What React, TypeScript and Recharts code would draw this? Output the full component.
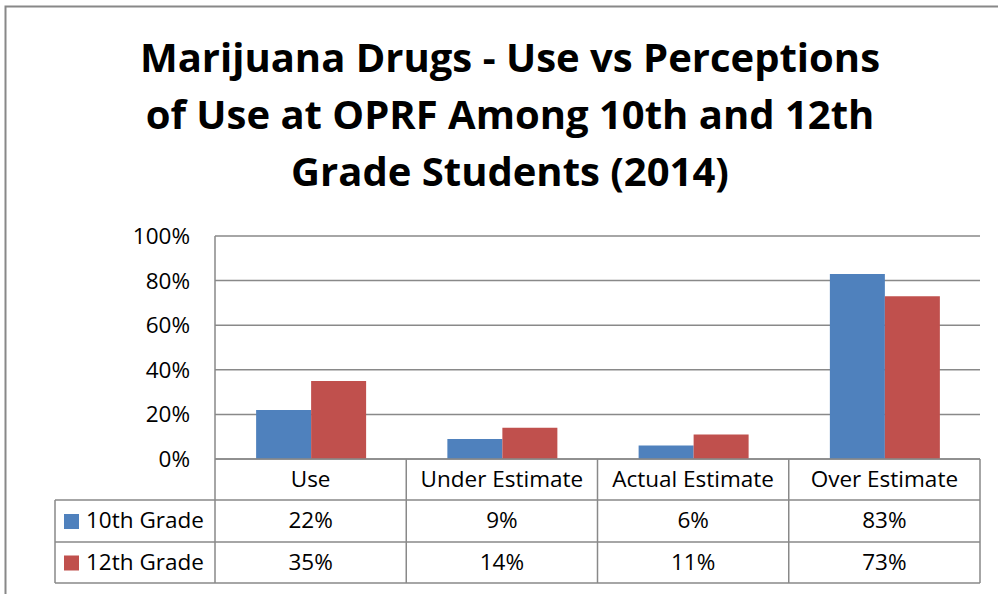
import React from 'react';
import { BarChart, Bar, XAxis, YAxis, CartesianGrid } from 'recharts';

const categories = ['Use', 'Under Estimate', 'Actual Estimate', 'Over Estimate'];
const grade10 = [0.22, 0.09, 0.06, 0.83];
const grade12 = [0.35, 0.14, 0.11, 0.73];
const yTicks = [0, 0.2, 0.4, 0.6, 0.8, 1];
const titleLines = [
  'Marijuana Drugs - Use vs Perceptions',
  'of Use at OPRF Among 10th and 12th',
  'Grade Students (2014)',
];
const seriesNames = ['10th Grade', '12th Grade'];

const W = 998;
const H = 594;
const FONT = '"Open Sans", Lato, sans-serif';
const GRID = '#898989';
const BLUE = '#4F81BD';
const RED = '#C0504D';

const PLOT_LEFT = 215;
const PLOT_RIGHT = 980;
const PLOT_TOP = 236;
const PLOT_BOTTOM = 459;
const ROW1 = 500;
const ROW2 = 542;
const ROW3 = 583;
const TABLE_LEFT = 55;

const data = categories.map((name, i) => ({ name, g10: grade10[i], g12: grade12[i] }));

const pct = (v: number) => `${Math.round(v * 100)}%`;

function TableTick(props: any) {
  const { x, index } = props;
  const cellText = { fontFamily: FONT, fontSize: 22.5, fill: '#000', textAnchor: 'middle' as const, dominantBaseline: 'middle' as const };
  return (
    <g>
      <text x={x} y={(PLOT_BOTTOM + ROW1) / 2 + 1} {...cellText}>{categories[index]}</text>
      <text x={x} y={(ROW1 + ROW2) / 2 + 1} {...cellText}>{pct(grade10[index])}</text>
      <text x={x} y={(ROW2 + ROW3) / 2 + 1} {...cellText}>{pct(grade12[index])}</text>
    </g>
  );
}

export default function App() {
  const colW = (PLOT_RIGHT - PLOT_LEFT) / categories.length;
  const colEdges = categories.map((_, i) => PLOT_LEFT + colW * (i + 1));
  return (
    <div style={{ position: 'absolute', left: 0, top: 0, width: W, height: H, background: '#fff', overflow: 'hidden' }}>
      <BarChart
        width={W}
        height={H}
        data={data}
        margin={{ top: PLOT_TOP, right: W - PLOT_RIGHT, bottom: 0, left: 0 }}
        barCategoryGap="21.5%"
        barGap={0}
      >
        <CartesianGrid vertical={false} stroke={GRID} strokeWidth={1.5} />
        <YAxis
          width={PLOT_LEFT}
          domain={[0, 1]}
          ticks={yTicks}
          tickFormatter={pct}
          tickLine={false}
          tickSize={0}
          tickMargin={25}
          axisLine={{ stroke: GRID, strokeWidth: 1.5 }}
          tick={{ fontFamily: FONT, fontSize: 22.5, fill: '#000' }}
        />
        <XAxis
          dataKey="name"
          height={H - PLOT_BOTTOM}
          tickLine={false}
          axisLine={{ stroke: GRID, strokeWidth: 1.5 }}
          tick={<TableTick />}
          interval={0}
        />
        <Bar dataKey="g10" fill={BLUE} isAnimationActive={false} />
        <Bar dataKey="g12" fill={RED} isAnimationActive={false} />
      </BarChart>
      <svg width={W} height={H} style={{ position: 'absolute', left: 0, top: 0, pointerEvents: 'none' }}>
        <rect x={5.5} y={6.5} width={W + 10} height={H + 10} fill="none" stroke="#888" strokeWidth={2} />
        {titleLines.map((t, i) => (
          <text key={t} x={510} y={61 + i * 57} textAnchor="middle" dominantBaseline="middle"
            style={{ fontFamily: FONT, fontSize: 40, fontWeight: 700, fill: '#000' }}>{t}</text>
        ))}
        <g stroke={GRID} strokeWidth={1.5}>
          <line x1={PLOT_LEFT} y1={PLOT_BOTTOM} x2={PLOT_LEFT} y2={ROW3} />
          {[ROW1, ROW2, ROW3].map((y) => (
            <line key={y} x1={TABLE_LEFT} y1={y} x2={PLOT_RIGHT} y2={y} />
          ))}
          <line x1={TABLE_LEFT} y1={ROW1} x2={TABLE_LEFT} y2={ROW3} />
          {colEdges.map((x) => (
            <line key={x} x1={x} y1={PLOT_BOTTOM} x2={x} y2={ROW3} />
          ))}
        </g>
        {seriesNames.map((s, i) => {
          const cy = i === 0 ? (ROW1 + ROW2) / 2 : (ROW2 + ROW3) / 2;
          return (
            <g key={s}>
              <rect x={64} y={cy - 7} width={15} height={15} fill={i === 0 ? BLUE : RED} />
              <text x={86} y={cy + 1} dominantBaseline="middle"
                style={{ fontFamily: FONT, fontSize: 22.5, fill: '#000' }}>{s}</text>
            </g>
          );
        })}
      </svg>
    </div>
  );
}
